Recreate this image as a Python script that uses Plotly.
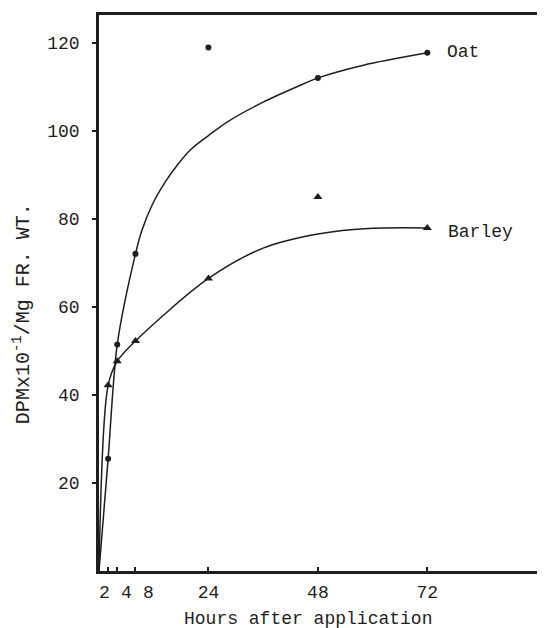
import plotly.graph_objects as go

# measured points (hours after application, DPM x10^-1 / mg fr. wt.)
hours = [2, 4, 8, 24, 48, 72]
oat_values = [25.5, 51.5, 72.1, 119.0, 112.1, 117.8]
barley_values = [42.2, 47.7, 52.3, 66.5, 85.0, 78.0]

# hand-drawn fitted curves
oat_curve_hours = [0, 2, 4, 8, 9.4, 11.6, 14.5, 17.4, 20.3, 24, 28, 36, 43.4, 48, 58, 72]
oat_curve_values = [0, 25.5, 51.5, 72.1, 77.4, 83.1, 88.4, 92.6, 96.0, 99.0, 102.0,
                    106.6, 110.1, 112.1, 115.0, 117.8]
barley_curve_hours = [0, 2, 4, 8, 24, 36, 48, 60, 72]
barley_curve_values = [0, 42.2, 47.7, 52.3, 66.5, 73.4, 76.6, 77.9, 78.0]

x_tickvals = [2, 4, 8, 24, 48, 72]
x_ticklabels = ["2", "4", "8", "24", "48", "72"]
y_tickvals = [20, 40, 60, 80, 100, 120]
y_ticklabels = ["20", "40", "60", "80", "100", "120"]

INK = "#1e1e1e"
FONT = "Liberation Mono"

fig = go.Figure()
fig.add_trace(go.Scatter(x=oat_curve_hours, y=oat_curve_values, mode="lines",
                         line=dict(color=INK, width=1.5, shape="spline", smoothing=0.8),
                         hoverinfo="skip", showlegend=False))
fig.add_trace(go.Scatter(x=barley_curve_hours, y=barley_curve_values, mode="lines",
                         line=dict(color=INK, width=1.5, shape="spline", smoothing=0.9),
                         hoverinfo="skip", showlegend=False))
fig.add_trace(go.Scatter(x=hours, y=oat_values, mode="markers", name="Oat",
                         marker=dict(symbol="circle", size=6, color=INK), showlegend=False))
fig.add_trace(go.Scatter(x=hours, y=barley_values, mode="markers", name="Barley",
                         marker=dict(symbol="triangle-up", size=8, color=INK), showlegend=False))

fig.add_annotation(x=hours[-1], y=oat_values[-1], text="Oat", showarrow=False,
                   xanchor="left", xshift=18, yshift=1,
                   font=dict(family=FONT, size=18, color=INK))
fig.add_annotation(x=hours[-1], y=barley_values[-1], text="Barley", showarrow=False,
                   xanchor="left", xshift=19, yshift=-4,
                   font=dict(family=FONT, size=18, color=INK))

# the crowded early-hour labels were typed slightly apart from their ticks
axis_ticktext = []
early_shift = {2: -4, 4: 9.5, 8: 13.5}
for v, lab in zip(x_tickvals, x_ticklabels):
    if v in early_shift:
        axis_ticktext.append("")
        fig.add_annotation(x=v, xref="x", yref="paper", y=-0.0396, text=lab,
                           showarrow=False, xanchor="center", yanchor="middle",
                           xshift=early_shift[v],
                           font=dict(family=FONT, size=18, color=INK))
    else:
        axis_ticktext.append(lab)

fig.add_annotation(xref="paper", yref="paper", x=(300 - 91) / 446, y=-0.0863,
                   text="Hours after application", showarrow=False,
                   xanchor="center", yanchor="middle",
                   font=dict(family=FONT, size=18, color=INK))
fig.add_annotation(xref="paper", yref="paper", x=-(91 - 14) / 446, y=0.462,
                   text="DPMx10<sup>-1</sup>/Mg FR. WT.", showarrow=False, textangle=-90,
                   xanchor="center", yanchor="middle",
                   font=dict(family=FONT, size=20, color=INK))

fig.update_layout(
    width=537, height=620,
    margin=dict(l=91, r=0, t=7, b=57),
    paper_bgcolor="white", plot_bgcolor="white",
    font=dict(family=FONT, size=18, color=INK),
    xaxis=dict(range=[0, 97.8], showgrid=False, zeroline=False,
               showline=True, linecolor=INK, linewidth=2.5, mirror=True,
               tickmode="array", tickvals=x_tickvals, ticktext=axis_ticktext,
               ticks="inside", ticklen=4, tickwidth=1.5, tickcolor=INK,
               tickangle=0, ticklabelstandoff=3,
               tickfont=dict(family=FONT, size=18, color=INK)),
    yaxis=dict(range=[0, 126.4], showgrid=False, zeroline=False,
               showline=True, linecolor=INK, linewidth=2.5,
               tickmode="array", tickvals=y_tickvals, ticktext=y_ticklabels,
               ticks="outside", ticklen=4, tickwidth=2, tickcolor=INK,
               ticklabelstandoff=9,
               tickfont=dict(family=FONT, size=18, color=INK)),
)

fig.write_html("out.html")
